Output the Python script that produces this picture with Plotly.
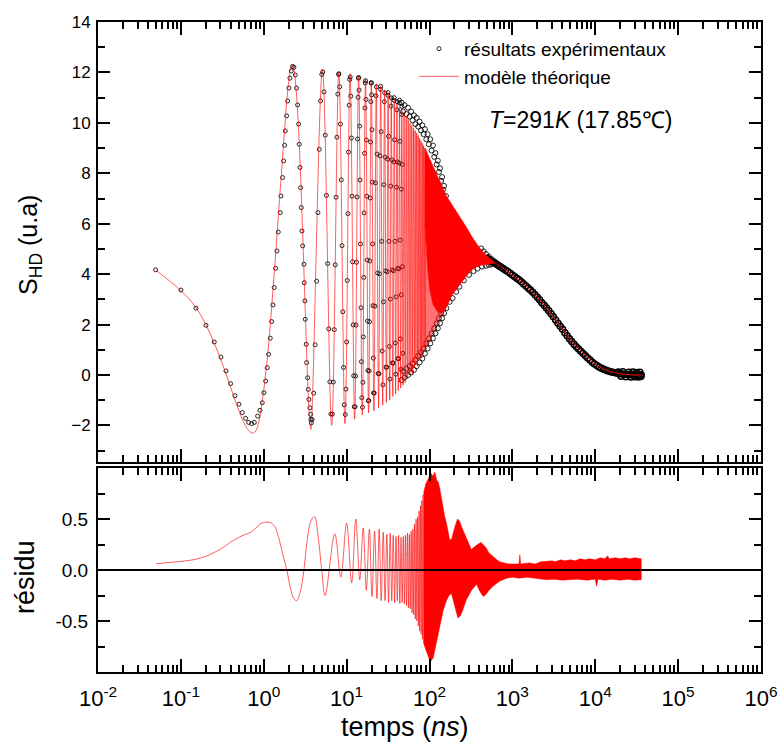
import plotly.graph_objects as go

exp_t_first = [0.0496, 0.1003, 0.152, 0.2009, 0.253, 0.3046, 0.35, 0.398, 0.449, 0.502, 0.551, 0.604,
               0.657, 0.714, 0.769, 0.843, 0.90, 0.96, 1.005, 1.053, 1.103, 1.145, 1.199, 1.244, 1.291,
               1.339, 1.39, 1.443, 1.497, 1.583, 1.613, 1.689, 1.737, 1.785, 1.819, 1.887, 1.941, 2.014,
               2.07, 2.148, 2.23, 2.313, 2.40, 2.49, 2.56, 2.634, 2.684, 2.734, 2.785, 2.836, 2.89, 2.944,
               3.055, 3.083, 3.14, 3.17, 3.26, 3.29, 3.38, 3.445, 3.51, 3.61, 3.677, 3.71, 3.75]
exp_s_first = [4.17, 3.37, 2.65, 1.97, 1.31, 0.71, 0.16, -0.34, -0.82, -1.16, -1.49, -1.72,
               -1.88, -1.93, -1.88, -1.63, -1.40, -1.10, -0.70, -0.24, 0.29, 0.82, 1.46, 2.12, 2.78,
               3.47, 4.23, 4.92, 5.67, 6.44, 7.10, 7.83, 8.49, 9.11, 9.68, 10.28, 10.87, 11.38,
               11.77, 12.06, 12.24, 12.20, 11.90, 11.38, 10.71, 9.95, 9.15, 8.23, 7.43, 6.64, 5.71, 5.12,
               4.39, 3.66, 2.94, 2.21, 1.22, 0.49, -0.11, -0.57, -0.97, -1.30, -1.56, -1.76, -1.90]

exp_t_osc = [3.834, 4.003, 4.172, 4.341, 4.509, 4.678, 4.847, 5.016,
             5.147, 5.334, 5.522, 5.709, 5.897, 6.084, 6.272, 6.459,
             6.736, 6.917, 7.098, 7.280, 7.461, 7.642, 7.823, 8.005,
             8.05, 8.238, 8.425, 8.613, 8.80, 8.988, 9.175, 9.363,
             9.641, 9.822, 10.003, 10.184, 10.366, 10.547, 10.728, 10.909,
             11.047, 11.234, 11.422, 11.609, 11.797, 11.984, 12.172, 12.359,
             12.636, 12.817, 12.998, 13.180, 13.361, 13.542, 13.723, 13.905,
             13.95, 14.138, 14.325, 14.513, 14.70, 14.888, 15.075, 15.263,
             15.541, 15.722, 15.903, 16.084, 16.266, 16.447, 16.628, 16.809,
             16.947, 17.134, 17.322, 17.509, 17.697, 17.884, 18.072, 18.259,
             18.536, 18.717, 18.898, 19.080, 19.261, 19.442, 19.623, 19.805,
             19.85, 20.038, 20.225, 20.413, 20.60, 20.788, 20.975, 21.163,
             21.531, 21.894, 22.256, 22.619, 22.894, 23.269, 23.644, 24.019,
             24.572, 24.934, 25.297, 25.659, 25.75, 26.125, 26.50, 26.875,
             27.431, 27.794, 28.156, 28.519, 28.794, 29.169, 29.544, 29.919,
             30.472, 30.834, 31.197, 31.559, 31.65, 32.025, 32.40, 32.775,
             33.331, 33.694, 34.056, 34.419, 34.694, 35.069, 35.444, 35.819,
             36.372, 36.734, 37.097, 37.459, 37.55, 37.925, 38.30, 38.675,
             39.231, 39.594, 39.956, 40.319, 40.594, 40.969, 41.344, 41.719,
             42.272, 42.634, 42.997, 43.359, 43.45, 43.825, 44.20, 44.575,
             45.131, 45.494, 45.856, 46.219, 46.494, 46.869, 47.244, 47.619]
exp_s_osc = [-1.77, -0.72, 1.20, 3.72, 6.44, 8.95, 10.87, 11.92,
             12.02, 11.23, 9.51, 7.12, 4.42, 1.83, -0.27, -1.55,
             -1.55, -0.28, 1.80, 4.37, 7.05, 9.43, 11.14, 11.92,
             11.95, 11.43, 9.95, 7.74, 5.13, 2.51, 0.30, -1.18,
             -1.57, -0.56, 1.31, 3.75, 6.40, 8.84, 10.70, 11.72,
             11.82, 11.06, 9.40, 7.09, 4.49, 1.99, -0.03, -1.26,
             -1.26, -0.04, 1.98, 4.47, 7.06, 9.36, 11.01, 11.77,
             11.80, 11.30, 9.87, 7.73, 5.20, 2.67, 0.53, -0.90,
             -1.28, -0.29, 1.51, 3.87, 6.43, 8.79, 10.59, 11.58,
             11.67, 10.93, 9.32, 7.09, 4.56, 2.14, 0.18, -1.02,
             -1.02, 0.16, 2.11, 4.52, 7.02, 9.24, 10.84, 11.57,
             11.60, 11.11, 9.73, 7.65, 5.20, 2.75, 0.67, -0.71,
             -0.72, 2.73, 7.62, 11.07, 11.43, 8.76, 4.05, 0.06,
             0.05, 4.01, 8.69, 11.33, 11.45, 9.65, 5.30, 0.95,
             -0.39, 2.90, 7.55, 10.84, 11.19, 8.64, 4.13, 0.31,
             0.31, 4.09, 8.56, 11.09, 11.20, 9.47, 5.30, 1.13,
             -0.16, 3.01, 7.49, 10.66, 10.99, 8.53, 4.17, 0.48,
             0.47, 4.13, 8.45, 10.89, 11.00, 9.33, 5.30, 1.27,
             0.03, 3.10, 7.45, 10.52, 10.84, 8.45, 4.23, 0.65,
             0.65, 4.21, 8.41, 10.79, 10.90, 9.27, 5.35, 1.43,
             0.22, 3.18, 7.37, 10.33, 10.65, 8.35, 4.30, 0.86]

exp_up_t = [46, 50, 55, 60, 65, 70, 76, 82, 88, 95, 102, 110, 118, 126, 134, 142, 150, 158, 165,
            420, 450, 480, 520, 560, 600]
exp_up_s = [10.8, 10.7, 10.6, 10.45, 10.3, 10.2, 10.05, 9.9, 9.75, 9.55, 9.35, 9.1, 8.8, 8.5, 8.2, 7.85, 7.5, 7.1, 6.8,
            5.02, 4.9, 4.8, 4.7, 4.6, 4.52]
exp_up2_t = [48, 52.5, 57.5, 62.5, 67.5, 73, 79, 85, 91.5, 98.5, 106, 114, 122, 130, 138, 146, 154]
exp_up2_s = [10.45, 10.35, 10.25, 10.1, 9.95, 9.85, 9.7, 9.55, 9.35, 9.15, 8.9, 8.65, 8.35, 8.05, 7.7, 7.35, 6.95]
exp_lo_t = [46, 50, 55, 60, 65, 70, 76, 82, 88, 95, 102, 110, 118, 126, 134, 142, 150, 160, 175, 190, 210,
            230, 260, 300, 340, 380, 430, 480, 520, 560]
exp_lo_s = [-0.2, -0.1, 0.0, 0.1, 0.2, 0.35, 0.5, 0.65, 0.85, 1.05, 1.25, 1.45, 1.65, 1.85, 2.05, 2.25, 2.45, 2.65,
            2.9, 3.05, 3.3, 3.5, 3.75, 3.97, 4.12, 4.22, 4.3, 4.33, 4.36, 4.38]
exp_lo2_t = [48, 52.5, 57.5, 62.5, 67.5, 73, 79, 85, 91.5, 98.5, 106, 114, 122, 130, 138, 146, 155]
exp_lo2_s = [0.15, 0.25, 0.35, 0.45, 0.6, 0.75, 0.9, 1.05, 1.25, 1.45, 1.65, 1.85, 2.05, 2.25, 2.45, 2.65, 2.85]

exp_decay_t = [500, 530, 560, 590, 620, 660, 700, 740, 780, 830, 880, 940, 1000, 1060, 1130, 1200, 1280, 1360,
               1450, 1550, 1650, 1760, 1880, 2000, 2130, 2270, 2420, 2580, 2750, 2930, 3120, 3330, 3550, 3780,
               4030, 4300, 4580, 4880, 5200, 5540, 5900, 6290, 6700, 7140, 7610, 8110, 8640, 9210, 9810, 10450,
               11140, 11870, 12650, 13480, 14360, 15300, 16310, 17380, 18520, 19730, 21030, 22400, 23870, 25440,
               27110, 28890, 30780, 32800, 34950, 35900,
               19000, 20500, 21500, 23500, 25500, 27000, 28500, 30000, 31500, 33000, 34500, 35500]
exp_decay_s = [4.62, 4.56, 4.50, 4.46, 4.43, 4.37, 4.31, 4.26, 4.21, 4.15, 4.10, 4.04, 3.97, 3.91, 3.84, 3.78, 3.70, 3.62,
               3.54, 3.45, 3.37, 3.28, 3.18, 3.08, 2.98, 2.87, 2.77, 2.66, 2.55, 2.43, 2.31, 2.18, 2.05, 1.93,
               1.81, 1.68, 1.56, 1.44, 1.33, 1.22, 1.12, 1.03, 0.94, 0.85, 0.76, 0.67, 0.59, 0.51, 0.44, 0.38,
               0.32, 0.27, 0.23, 0.19, 0.16, 0.13, 0.11, 0.09, 0.07, 0.05, 0.04, 0.03, 0.02, 0.02,
               0.01, 0.01, 0.0, 0.0, 0.0, 0.0,
               0.12, -0.05, 0.13, -0.07, 0.11, -0.08, 0.12, -0.07, 0.10, -0.08, 0.11, -0.06]

# ================= TOP PANEL : theoretical model (red) =================
mod_t = [0.05, 0.1, 0.15, 0.2, 0.25, 0.3, 0.35, 0.4, 0.45, 0.5, 0.55, 0.6, 0.65, 0.7, 0.75, 0.8, 0.85, 0.9,
         0.95, 1.0, 1.05, 1.1, 1.2, 1.3, 1.4, 1.5, 1.6, 1.7, 1.8, 1.9, 2.0, 2.1, 2.2, 2.3, 2.4, 2.5, 2.6, 2.7,
         2.8, 2.9, 3.0, 3.1, 3.2, 3.3, 3.4, 3.5, 3.6, 3.7,
         5.1, 6.6, 8.05, 9.55, 11.0, 12.5, 13.95, 15.45, 16.9, 18.4, 19.85, 21.35, 22.8, 24.3, 25.75, 27.25,
         28.7, 30.2, 31.65, 33.15, 34.6, 36.1, 37.55, 39.05, 40.5, 42.0, 43.45, 44.95, 46.4, 47.9,
         49.35, 50.85, 52.3, 53.8, 55.25, 56.75, 58.2, 59.7, 61.15, 62.65, 64.1, 65.6, 67.05, 68.55,
         70.0, 71.5, 72.95, 74.45, 75.9, 77.4, 78.85, 80.35, 81.8, 83.3, 84.75, 86.25, 87.7, 89.2]
mod_s = [4.15, 3.35, 2.7, 2.0, 1.3, 0.65, 0.05, -0.5, -1.0, -1.4, -1.75, -2.0, -2.18, -2.28, -2.3, -2.22, -2.0, -1.65,
         -1.15, -0.6, 0.0, 0.6, 2.0, 3.5, 4.9, 6.3, 7.6, 8.8, 9.9, 10.9, 11.65, 12.15, 12.3, 12.15, 11.7, 11.0, 10.1, 9.0,
         7.7, 6.3, 4.9, 3.5, 2.1, 0.8, -0.4, -1.3, -1.9, -2.16,
         12.13, -2.0, 12.0, -1.93, 11.95, -1.75, 11.85, -1.58, 11.77, -1.5, 11.65, -1.42, 11.55, -1.3, 11.45, -1.2,
         11.3, -1.08, 11.2, -0.98, 11.05, -0.85, 10.9, -0.75, 10.75, -0.62, 10.6, -0.52, 10.5, -0.4,
         10.35, -0.3, 10.25, -0.15, 10.15, 0.0, 10.0, 0.1, 9.9, 0.05, 9.8, 0.3, 9.7, 0.4,
         9.6, 0.35, 9.5, 0.6, 9.4, 0.7, 9.3, 0.65, 9.2, 0.9, 9.1, 1.0, 9.0, 0.95]

solid_up_t = [88, 90, 100, 115, 130, 145, 160, 200, 230, 280, 330, 400, 480, 540, 620]
solid_up_s = [9.0, 8.95, 8.6, 8.15, 7.75, 7.4, 7.1, 6.6, 6.3, 5.85, 5.45, 5.05, 4.75, 4.6, 4.45]
solid_lo_t = [88, 95, 100, 110, 125, 140, 155, 175, 190, 220, 251, 290, 331, 380, 420, 480, 540, 620]
solid_lo_s = [6.0, 4.2, 3.4, 2.8, 2.5, 2.45, 2.6, 2.95, 3.2, 3.5, 3.73, 4.0, 4.2, 4.3, 4.35, 4.38, 4.4, 4.45]
light_up_t = [88, 95, 100, 110, 125, 140, 155, 160]
light_up_s = [6.0, 4.2, 3.4, 2.8, 2.5, 2.45, 2.6, 2.65]
light_lo_t = [88, 100, 115, 130, 145, 160]
light_lo_s = [1.0, 1.3, 1.8, 2.15, 2.4, 2.65]

mod_decay_t = [620, 700, 800, 1000, 1300, 1620, 2000, 2570, 3200, 4100, 5000, 6500, 8000, 9400, 11500,
               13700, 17000, 19900, 25000, 28500, 35900]
mod_decay_s = [4.45, 4.32, 4.2, 3.95, 3.68, 3.4, 3.08, 2.67, 2.25, 1.8, 1.42, 1.0, 0.72, 0.49, 0.3,
               0.19, 0.1, 0.05, 0.02, 0.0, 0.0]

# ================= BOTTOM PANEL : residual =================
res_t = [0.05, 0.1, 0.15, 0.2, 0.25, 0.3, 0.35, 0.4, 0.5, 0.6, 0.7, 0.8, 0.9, 1.05, 1.2, 1.35, 1.5, 1.7, 1.9,
         2.1, 2.3, 2.5, 2.75, 3.0, 3.3, 3.7, 4.1, 4.5, 5.0, 5.5, 7.2, 8.5, 10.0, 11.5, 12.9, 14.4,
         15.85, 17.3, 18.8, 20.25, 21.75, 23.2, 24.7, 26.15, 27.65, 29.1, 30.6, 32.05, 33.55, 35.0,
         36.5, 37.95, 39.45, 40.9, 42.4, 43.85, 45.35, 46.8, 48.3,
         49.75, 51.25, 52.7, 54.2, 55.65, 57.15, 58.6, 60.1, 61.55, 63.05, 64.5, 66.0, 67.45, 68.95,
         70.4, 71.9, 73.35, 74.85, 76.3, 77.8, 79.25, 80.75, 82.2, 83.7, 85.15]
res_s = [0.062, 0.085, 0.105, 0.135, 0.17, 0.205, 0.24, 0.275, 0.32, 0.35, 0.37, 0.41, 0.45, 0.47, 0.465, 0.43,
         0.33, 0.15, 0.0, -0.18, -0.28, -0.30, -0.22, -0.05, 0.25, 0.48, 0.525, 0.35, 0.0, -0.25, 0.355, -0.07,
         0.46, -0.125, 0.5, -0.095, 0.41, -0.2, 0.4, -0.26, 0.38, -0.28, 0.4, -0.3, 0.37, -0.3, 0.35, -0.32,
         0.36, -0.3, 0.34, -0.32, 0.33, -0.3, 0.34, -0.33, 0.32, -0.32, 0.33,
         -0.33, 0.34, -0.35, 0.36, -0.37, 0.35, -0.38, 0.38, -0.42, 0.4, -0.44, 0.45, -0.48, 0.5,
         -0.5, 0.52, -0.55, 0.58, -0.6, 0.63, -0.63, 0.68, -0.68, 0.74, -0.72]

res_up_t = [85, 90, 97, 104, 110, 116, 122, 128, 133, 140, 146, 153, 160, 168, 175, 184, 195, 205, 218, 230,
            245, 260, 279, 300, 320, 340, 365, 395, 420, 444, 480, 520, 582, 650, 700, 778, 900, 1000, 1200,
            1230, 1260, 1600, 1900, 2200, 2600, 3000, 3300, 3800, 4300, 5000, 5800, 6500, 7500, 8500, 10000,
            11500, 13000, 14200, 14600, 17500, 20000, 23000, 26000, 30000, 35900]
res_up_s = [0.76, 0.84, 0.9, 0.95, 0.92, 0.96, 0.88, 0.86, 0.8, 0.68, 0.6, 0.52, 0.46, 0.38, 0.3, 0.3, 0.38, 0.44,
            0.5, 0.48, 0.42, 0.37, 0.3, 0.24, 0.2, 0.22, 0.24, 0.26, 0.27, 0.25, 0.22, 0.17, 0.13, 0.1, 0.08, 0.07,
            0.06, 0.06, 0.06, 0.15, 0.06, 0.07, 0.06, 0.08, 0.085, 0.09, 0.08, 0.1, 0.09, 0.1, 0.09, 0.11, 0.1,
            0.11, 0.1, 0.12, 0.11, 0.14, 0.11, 0.12, 0.11, 0.12, 0.11, 0.12, 0.11]
res_lo_t = [85, 90, 97, 101, 107, 111, 116, 122, 133, 146, 160, 172, 184, 200, 220, 235, 250, 279, 320, 370,
            400, 444, 480, 520, 582, 700, 855, 1000, 1200, 1500, 2000, 2570, 3200, 4000, 6000, 8000, 10000,
            10400, 10800, 13000, 16000, 20000, 25000, 30000, 35900]
res_lo_s = [-0.72, -0.78, -0.85, -0.9, -0.88, -0.86, -0.78, -0.68, -0.55, -0.4, -0.3, -0.25, -0.23, -0.35, -0.47,
            -0.45, -0.4, -0.29, -0.2, -0.14, -0.2, -0.26, -0.24, -0.2, -0.16, -0.11, -0.08, -0.07, -0.08, -0.07,
            -0.08, -0.095, -0.09, -0.1, -0.09, -0.1, -0.09, -0.16, -0.09, -0.1, -0.09, -0.1, -0.09, -0.1, -0.095]

# ================= axes ticks =================
x_tick_vals = [1e-2, 1e-1, 1e0, 1e1, 1e2, 1e3, 1e4, 1e5, 1e6]
x_tick_text = ["10<sup>-2</sup>", "10<sup>-1</sup>", "10<sup>0</sup>", "10<sup>1</sup>", "10<sup>2</sup>",
               "10<sup>3</sup>", "10<sup>4</sup>", "10<sup>5</sup>", "10<sup>6</sup>"]
x_minor_vals = [m * 10.0 ** e for e in range(-2, 6) for m in range(2, 10)]
res_tick_vals = [-0.5, 0.0, 0.5]
res_tick_text = ["-0.5", "0.0", "0.5"]

RED = "#ff0000"
LINE_RED = "rgba(255,0,0,0.8)"
CIRC = dict(symbol="circle-open", size=4, color="rgba(0,0,0,0.85)", line=dict(width=1))


def band(t_up, s_up, t_lo, s_lo):
    return list(t_up) + list(t_lo)[::-1], list(s_up) + list(s_lo)[::-1]


fig = go.Figure()

# ---- experimental data (top) ----
fig.add_trace(go.Scatter(x=exp_t_first, y=exp_s_first, mode="markers", marker=CIRC,
                         name="résultats expérimentaux", showlegend=True, xaxis="x", yaxis="y"))
fig.add_trace(go.Scatter(x=exp_t_osc, y=exp_s_osc, mode="markers", marker=CIRC, showlegend=False,
                         xaxis="x", yaxis="y"))
for tt, ss in ((exp_up_t, exp_up_s), (exp_up2_t, exp_up2_s), (exp_lo_t, exp_lo_s), (exp_lo2_t, exp_lo2_s)):
    fig.add_trace(go.Scatter(x=tt, y=ss, mode="markers", marker=dict(CIRC, size=5), showlegend=False,
                             xaxis="x", yaxis="y"))
fig.add_trace(go.Scatter(x=exp_decay_t, y=exp_decay_s, mode="markers",
                         marker=dict(symbol="circle-open", size=6, color="black", line=dict(width=1.5)),
                         showlegend=False, xaxis="x", yaxis="y"))

# ---- model (top) ----
bx, by = band(light_up_t, light_up_s, light_lo_t, light_lo_s)
fig.add_trace(go.Scatter(x=bx, y=by, mode="lines", fill="toself", fillcolor="rgba(255,0,0,0.55)",
                         line=dict(width=0), showlegend=False, hoverinfo="skip", xaxis="x", yaxis="y"))
bx, by = band(solid_up_t, solid_up_s, solid_lo_t, solid_lo_s)
fig.add_trace(go.Scatter(x=bx, y=by, mode="lines", fill="toself", fillcolor=RED,
                         line=dict(width=0.5, color=RED), showlegend=False, hoverinfo="skip",
                         xaxis="x", yaxis="y"))
fig.add_trace(go.Scatter(x=mod_t, y=mod_s, mode="lines", line=dict(color=LINE_RED, width=0.8, shape="spline"),
                         name="modèle théorique", showlegend=True, xaxis="x", yaxis="y"))
fig.add_trace(go.Scatter(x=mod_decay_t, y=mod_decay_s, mode="lines", line=dict(color=RED, width=1, shape="spline"),
                         showlegend=False, xaxis="x", yaxis="y"))

# ---- residual (bottom) ----
bx, by = band(res_up_t, res_up_s, res_lo_t, res_lo_s)
fig.add_trace(go.Scatter(x=bx, y=by, mode="lines", fill="toself", fillcolor=RED,
                         line=dict(width=0.5, color=RED), showlegend=False, hoverinfo="skip",
                         xaxis="x2", yaxis="y2"))
fig.add_trace(go.Scatter(x=res_t, y=res_s, mode="lines", line=dict(color=LINE_RED, width=0.8, shape="spline"),
                         showlegend=False, xaxis="x2", yaxis="y2"))

FONT = "Liberation Sans, Arial, sans-serif"
axis_common = dict(showline=True, linecolor="black", linewidth=2, mirror="ticks", ticks="inside",
                   tickcolor="black", tickwidth=2, showgrid=False, zeroline=False)

fig.update_layout(
    width=779, height=745,
    margin=dict(l=98, r=18, t=22, b=73, autoexpand=False),
    paper_bgcolor="white", plot_bgcolor="white",
    font=dict(family=FONT, color="black"),
    xaxis=dict(axis_common, type="log", range=[-2, 6], domain=[0, 1], anchor="y",
               tickvals=x_tick_vals, showticklabels=False, ticklen=13,
               minor=dict(tickvals=x_minor_vals, ticks="inside", ticklen=7, tickwidth=1.5, tickcolor="black")),
    yaxis=dict(axis_common, range=[-3.45, 14.0], domain=[0.3231, 1], anchor="x",
               tick0=0, dtick=2, ticklen=12, tickfont=dict(size=17), ticklabelstandoff=2,
               minor=dict(dtick=1, tick0=0, ticks="inside", ticklen=7, tickwidth=1.5, tickcolor="black")),
    xaxis2=dict(axis_common, type="log", range=[-2, 6], domain=[0, 1], anchor="y2",
                tickvals=x_tick_vals, ticktext=x_tick_text, ticklen=13, tickfont=dict(size=22),
                ticklabelstandoff=6,
                minor=dict(tickvals=x_minor_vals, ticks="inside", ticklen=7, tickwidth=1.5, tickcolor="black")),
    yaxis2=dict(axis_common, range=[-1.0, 1.0], domain=[0, 0.3138], anchor="x2",
                tickvals=res_tick_vals, ticktext=res_tick_text, ticklen=12, tickfont=dict(size=19),
                ticklabelstandoff=4,
                minor=dict(tickvals=[-0.75, -0.25, 0.25, 0.75], ticks="inside", ticklen=7, tickwidth=1.5,
                           tickcolor="black")),
    legend=dict(x=0.4766, y=0.988, xanchor="left", yanchor="top", bgcolor="rgba(0,0,0,0)",
                font=dict(size=19, family=FONT), itemwidth=40, tracegroupgap=0),
    shapes=[dict(type="line", xref="x2 domain", yref="y2", x0=0, x1=1, y0=0, y1=0,
                 line=dict(color="black", width=2), layer="above")],
    annotations=[
        dict(text="<i>T</i>=291<i>K</i> (17.85℃)", xref="paper", yref="paper", x=0.727, y=0.849,
             showarrow=False, font=dict(size=23, family=FONT), xanchor="center", yanchor="middle"),
        dict(text="S<sub>HD</sub> (u.a)", xref="paper", yref="paper", x=0, y=0.657, xshift=-68,
             textangle=-90, showarrow=False, font=dict(size=25, family=FONT), xanchor="center", yanchor="middle"),
        dict(text="résidu", xref="paper", yref="paper", x=0, y=0.146, xshift=-73,
             textangle=-90, showarrow=False, font=dict(size=27, family=FONT), xanchor="center", yanchor="middle"),
        dict(text="temps (<i>ns</i>)", xref="paper", yref="paper", x=0.4626, y=0, yshift=-55,
             showarrow=False, font=dict(size=27, family=FONT), xanchor="center", yanchor="middle"),
    ],
)

fig.write_html("out.html", config={"displayModeBar": False},
               post_script="document.body.style.margin='0px';")
